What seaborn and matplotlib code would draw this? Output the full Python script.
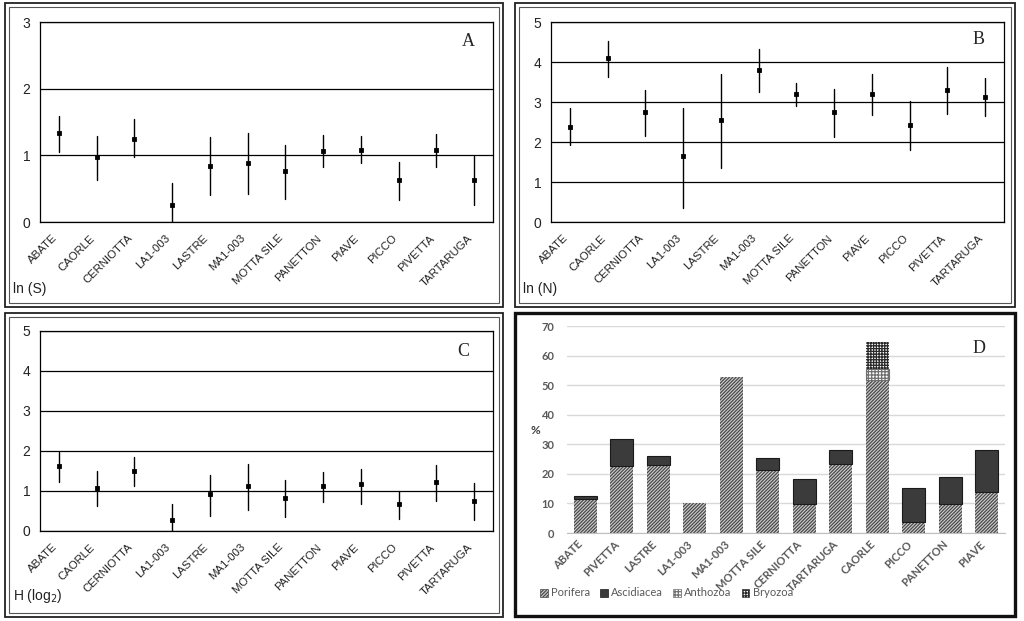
import numpy as np
import pandas as pd
import matplotlib.pyplot as plt
import seaborn as sns
from matplotlib.patches import Rectangle, Patch

# sites used in panels A-C
sites = ['ABATE', 'CAORLE', 'CERNIOTTA', 'LA1-003', 'LASTRE', 'MA1-003',
         'MOTTA SILE', 'PANETTON', 'PIAVE', 'PICCO', 'PIVETTA', 'TARTARUGA']

# A - ln(S): mean and range
lnS_mean = [1.33, 0.97, 1.25, 0.25, 0.84, 0.89, 0.76, 1.07, 1.08, 0.63, 1.08, 0.63]
lnS_low = [1.05, 0.63, 0.98, 0.0, 0.41, 0.42, 0.34, 0.82, 0.88, 0.33, 0.82, 0.25]
lnS_high = [1.59, 1.29, 1.54, 0.59, 1.27, 1.33, 1.15, 1.31, 1.29, 0.90, 1.32, 0.99]

# B - ln(N)
lnN_mean = [2.38, 4.09, 2.74, 1.64, 2.54, 3.80, 3.20, 2.76, 3.20, 2.42, 3.31, 3.13]
lnN_low = [1.93, 3.63, 2.16, 0.34, 1.36, 3.25, 2.90, 2.12, 2.67, 1.80, 2.70, 2.65]
lnN_high = [2.84, 4.52, 3.31, 2.86, 3.71, 4.33, 3.47, 3.32, 3.71, 3.02, 3.88, 3.60]

# C - H (log2)
H_mean = [1.63, 1.08, 1.50, 0.27, 0.92, 1.12, 0.83, 1.12, 1.17, 0.67, 1.23, 0.76]
H_low = [1.22, 0.63, 1.12, 0.0, 0.38, 0.52, 0.34, 0.73, 0.67, 0.31, 0.76, 0.27]
H_high = [1.98, 1.51, 1.84, 0.67, 1.39, 1.67, 1.27, 1.47, 1.56, 1.00, 1.64, 1.19]

# D - % cover by taxon
d_sites = ['ABATE', 'PIVETTA', 'LASTRE', 'LA1-003', 'MA1-003', 'MOTTA SILE',
           'CERNIOTTA', 'TARTARUGA', 'CAORLE', 'PICCO', 'PANETTON', 'PIAVE']
porifera = [11.5, 22.5, 23.1, 10.1, 52.7, 21.4, 9.9, 23.4, 51.8, 3.7, 9.9, 14.0]
ascidiacea = [1.0, 9.3, 2.8, 0, 0, 4.1, 8.3, 4.5, 0, 11.5, 8.9, 14.0]
anthozoa = [0, 0, 0, 0, 0, 0, 0, 0, 3.6, 0, 0, 0]
bryozoa = [0, 0, 0, 0, 0, 0, 0, 0, 9.2, 0, 0, 0]

sns.set_style('white')
plt.rcParams['font.family'] = ['Liberation Sans', 'DejaVu Sans']
plt.rcParams['hatch.linewidth'] = 0.9

FW, FH = 1024, 621
fig = plt.figure(figsize=(FW / 100, FH / 100), dpi=100)


def px(x0, y0, x1, y1):
    return [x0 / FW, 1 - y1 / FH, (x1 - x0) / FW, (y1 - y0) / FH]


def box(x0, y0, x1, y1, lw, color='#222222'):
    fig.patches.append(Rectangle((x0 / FW, 1 - y1 / FH), (x1 - x0) / FW, (y1 - y0) / FH,
                                 transform=fig.transFigure, fill=False, ec=color, lw=lw))


def range_panel(rect, mean, low, high, ymax, letter, letter_xy, ylab, ylab_xy):
    ax = fig.add_axes(px(*rect))
    df = pd.DataFrame({'site': np.repeat(sites, 3),
                       'val': np.column_stack([low, mean, high]).ravel()})
    sns.pointplot(data=df, x='site', y='val', order=sites, estimator='median',
                  errorbar=lambda v: (v.min(), v.max()), color='black',
                  linestyle='none', marker='s', err_kws={'linewidth': 1}, ax=ax)
    for ln in ax.lines:
        ln.set_markersize(1.6)
    ax.set_xlim(-0.5, 11.5)
    ax.set_ylim(0, ymax)
    ax.set_yticks(range(ymax + 1))
    ax.yaxis.grid(True, color='black', lw=0.9)
    ax.set_axisbelow(True)
    ax.set_xlabel('')
    ax.set_ylabel('')
    ax.set_xticks(range(12))
    ax.set_xticklabels(sites, rotation=45, ha='right', fontsize=8.2, color='#222222')
    ax.set_xticks(np.arange(0.5, 11, 1), minor=True)
    ax.tick_params(axis='x', which='major', length=0, pad=8)
    ax.tick_params(axis='x', which='minor', direction='inout', length=6, width=0.9, color='black')
    ax.tick_params(axis='y', length=4, width=0.9, labelsize=10, pad=3, colors='#222222')
    for s in ax.spines.values():
        s.set_color('black')
        s.set_linewidth(0.9)
    fig.text(letter_xy[0] / FW, 1 - letter_xy[1] / FH, letter, family='Liberation Serif',
             fontsize=13, ha='center', va='center')
    fig.text(ylab_xy[0] / FW, 1 - ylab_xy[1] / FH, ylab, fontsize=10, ha='left', va='center',
             color='#222222')
    return ax


range_panel((40, 22, 493, 222), lnS_mean, lnS_low, lnS_high, 3, 'A', (468, 41), 'ln (S)', (13, 289))
range_panel((551, 22, 1004, 222), lnN_mean, lnN_low, lnN_high, 5, 'B', (979, 40), 'ln (N)', (523, 289))
range_panel((40, 331, 493, 531), H_mean, H_low, H_high, 5, 'C', (463, 352), 'H (log$_2$)', (13, 596))

# panel D: stacked bars
axd = fig.add_axes(px(567, 326, 1005, 533))
styles = [
    ('Porifera', porifera, dict(color='#cfcfcf', edgecolor='#4a4a4a', hatch='//////////', linewidth=0)),
    ('Ascidiacea', ascidiacea, dict(color='#3b3b3b', edgecolor='#1a1a1a', linewidth=0.8)),
    ('Anthozoa', anthozoa, dict(color='white', edgecolor='#707070', hatch='+++++', linewidth=0.8)),
    ('Bryozoa', bryozoa, dict(color='white', edgecolor='#2a2a2a', hatch='++++++', linewidth=0)),
]
bottom = np.zeros(len(d_sites))
handles = []
for name, vals, st in styles:
    n0 = len(axd.patches)
    sns.barplot(x=d_sites, y=vals, order=d_sites, bottom=bottom, width=0.64,
                saturation=1, errorbar=None, ax=axd, **st)
    for p in axd.patches[n0:]:
        if p.get_height() == 0:
            p.set_visible(False)
    bottom = bottom + np.array(vals)
    handles.append(Patch(facecolor=st['color'], edgecolor=st['edgecolor'],
                         hatch=st.get('hatch'), linewidth=0.5, label=name))

axd.set_xlim(-0.5, 11.5)
axd.set_ylim(0, 70)
axd.set_yticks(range(0, 71, 10))
axd.yaxis.grid(True, color='#d9d9d9', lw=1)
axd.set_axisbelow(True)
axd.set_xlabel('')
axd.set_ylabel('')
axd.set_xticks(range(12))
axd.set_xticklabels(d_sites, rotation=45, ha='right', fontsize=8, color='#595959',
                    family='Lato', fontweight='bold')
for t in axd.get_yticklabels():
    t.set_fontfamily('Lato')
    t.set_fontweight('bold')
axd.tick_params(axis='x', length=0, pad=4)
axd.tick_params(axis='y', length=0, pad=9, labelsize=8, colors='#595959')
for k in ['top', 'right', 'left']:
    axd.spines[k].set_visible(False)
axd.spines['bottom'].set_color('#bfbfbf')
fig.text(535 / FW, 1 - 430 / FH, '%', family='Lato', fontweight='bold', fontsize=8.5,
         color='#404040', ha='center', va='center')
fig.text(979 / FW, 1 - 348 / FH, 'D', family='Liberation Serif', fontsize=13,
         ha='center', va='center')
fig.legend(handles=handles, loc='center left', bbox_to_anchor=(530 / FW, 1 - 593 / FH),
           ncol=4, frameon=False, handlelength=0.7, handleheight=0.7,
           handletextpad=0.3, columnspacing=0.9, labelcolor='#595959',
           prop={'family': 'Lato', 'size': 8})

# panel frames
for x0, y0, x1, y1 in [(5, 3, 503, 307), (515, 3, 1015, 307), (5, 313, 503, 617)]:
    box(x0, y0, x1, y1, 1.3)
    box(x0 + 4, y0 + 4, x1 - 4, y1 - 4, 0.8, '#555555')
box(515, 313, 1015, 616, 2.4, '#111111')

fig.savefig('out.png', dpi=100)
